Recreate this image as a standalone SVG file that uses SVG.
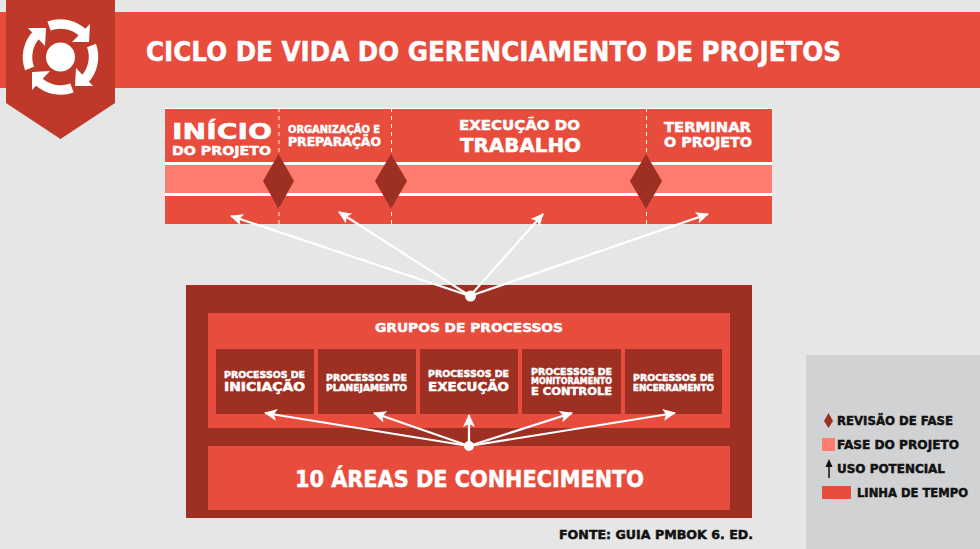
<svg xmlns="http://www.w3.org/2000/svg" width="980" height="549" viewBox="0 0 980 549">
<style>
text{font-family:"DejaVu Sans","Liberation Sans",sans-serif;font-weight:700;fill:#fff;stroke:#fff;stroke-width:.5}
text.k{fill:#111;stroke:#111}
.r{fill:#e84c3d}
.d{fill:#9e2f23}
.l{fill:#fd7b6f}
.w{stroke:#fff;stroke-width:2.200;fill:none}
.b{stroke:#fff;stroke-width:9.500;fill:none}
</style>
<defs>
<marker id="a" markerUnits="userSpaceOnUse" markerWidth="14" markerHeight="12" refX="12" refY="6" orient="auto"><path d="M0 0L13 6L0 12L3 6Z" fill="#fff"/></marker>
</defs>
<rect width="980" height="549" fill="#e6e6e6"/>
<g id="header">
<rect y="12" width="980" height="76" class="r"/>
<path d="M6 0H115V103L60.500 139L6 103Z" fill="#bf3829"/>
<text x="146" y="61" font-size="26" textLength="695" lengthAdjust="spacingAndGlyphs">CICLO DE VIDA DO GERENCIAMENTO DE PROJETOS</text>
</g>
<g id="icon">
<circle cx="60.500" cy="57" r="14.500" fill="#fff"/>
<path d="M49 26A33 33 0 0 1 83 33" class="b"/><path d="M90 24L89 42L72 42Z" fill="#fff"/>
<path d="M91.500 45.500A33 33 0 0 1 84.500 79.500" class="b"/><path d="M93 86L75 86L76 68Z" fill="#fff"/>
<path d="M72 88A33 33 0 0 1 38 81" class="b"/><path d="M32 90L32 72L50 71Z" fill="#fff"/>
<path d="M29.500 68.500A33 33 0 0 1 36.500 34.500" class="b"/><path d="M28 28L46 28L45 46Z" fill="#fff"/>
</g>
<g id="timeline">
<rect x="165" y="108" width="607" height="116" fill="#fff"/>
<rect x="165" y="109" width="607" height="53" class="r"/>
<rect x="165" y="165" width="607" height="28" class="l"/>
<rect x="165" y="196" width="607" height="28" class="r"/>
<path d="M279 108V224M391.500 108V224M646.500 108V224" stroke="#fff" stroke-dasharray="4 4" fill="none"/>
</g>
<g id="fase-inicio">
<text x="172" y="139" font-size="22" textLength="100" lengthAdjust="spacingAndGlyphs">INÍCIO</text>
<text x="172" y="155" font-size="13" textLength="99" lengthAdjust="spacingAndGlyphs">DO PROJETO</text>
<path d="M278.500 154L294 181L278.500 209L263 181Z" class="d"/>
</g>
<g id="fase-organizacao">
<text x="288" y="133" font-size="10.500" textLength="92" lengthAdjust="spacingAndGlyphs">ORGANIZAÇÃO E</text>
<text x="288" y="146" font-size="12.500" textLength="93" lengthAdjust="spacingAndGlyphs">PREPARAÇÃO</text>
<path d="M391 154L407 181L391 209L375 181Z" class="d"/>
</g>
<g id="fase-execucao">
<text x="459" y="130" font-size="14" textLength="121" lengthAdjust="spacingAndGlyphs">EXECUÇÃO DO</text>
<text x="460" y="152" font-size="20" textLength="121" lengthAdjust="spacingAndGlyphs">TRABALHO</text>
<path d="M646 154L662 181L646 209L630 181Z" class="d"/>
</g>
<g id="fase-terminar">
<text x="664" y="132" font-size="14" textLength="87" lengthAdjust="spacingAndGlyphs">TERMINAR</text>
<text x="664" y="147" font-size="14" textLength="88" lengthAdjust="spacingAndGlyphs">O PROJETO</text>
</g>
<g id="container">
<rect x="186" y="285" width="566" height="233" class="d"/>
<rect x="208" y="313" width="522" height="115" class="r"/>
<text x="375" y="332" font-size="13" textLength="188" lengthAdjust="spacingAndGlyphs">GRUPOS DE PROCESSOS</text>
</g>
<g id="iniciacao">
<rect x="216" y="349" width="98" height="65" class="d"/>
<text x="224" y="378" font-size="9.500" textLength="81" lengthAdjust="spacingAndGlyphs">PROCESSOS DE</text>
<text x="224" y="391" font-size="12" textLength="81" lengthAdjust="spacingAndGlyphs">INICIAÇÃO</text>
</g>
<g id="planejamento">
<rect x="318" y="349" width="98" height="65" class="d"/>
<text x="326" y="381" font-size="9.500" textLength="81" lengthAdjust="spacingAndGlyphs">PROCESSOS DE</text>
<text x="326" y="391" font-size="9" textLength="81" lengthAdjust="spacingAndGlyphs">PLANEJAMENTO</text>
</g>
<g id="execucao">
<rect x="420" y="349" width="98" height="65" class="d"/>
<text x="428" y="377" font-size="9.500" textLength="81" lengthAdjust="spacingAndGlyphs">PROCESSOS DE</text>
<text x="428" y="391" font-size="13" textLength="81" lengthAdjust="spacingAndGlyphs">EXECUÇÃO</text>
</g>
<g id="monitoramento">
<rect x="522" y="349" width="99" height="65" class="d"/>
<text x="531" y="375" font-size="9.500" textLength="81" lengthAdjust="spacingAndGlyphs">PROCESSOS DE</text>
<text x="531" y="384" font-size="9" textLength="81" lengthAdjust="spacingAndGlyphs">MONITORAMENTO</text>
<text x="531" y="395" font-size="11" textLength="81" lengthAdjust="spacingAndGlyphs">E CONTROLE</text>
</g>
<g id="encerramento">
<rect x="625" y="349" width="97" height="65" class="d"/>
<text x="633" y="381" font-size="9.500" textLength="81" lengthAdjust="spacingAndGlyphs">PROCESSOS DE</text>
<text x="633" y="391" font-size="9" textLength="81" lengthAdjust="spacingAndGlyphs">ENCERRAMENTO</text>
</g>
<g id="areas">
<rect x="208" y="446" width="522" height="64" class="r"/>
<text x="295" y="487" font-size="23" textLength="349" lengthAdjust="spacingAndGlyphs">10 ÁREAS DE CONHECIMENTO</text>
</g>
<g id="connectors">
<path d="M470 296L231 216" class="w" marker-end="url(#a)"/>
<path d="M470 296L339 212" class="w" marker-end="url(#a)"/>
<path d="M470 296L543 214" class="w" marker-end="url(#a)"/>
<path d="M470 296L708 214" class="w" marker-end="url(#a)"/>
<circle cx="470.500" cy="296" r="5.500" fill="#fff"/>
<path d="M469 446L265 413" class="w" marker-end="url(#a)"/>
<path d="M469 446L374 413" class="w" marker-end="url(#a)"/>
<path d="M469 446V415" class="w" marker-end="url(#a)"/>
<path d="M469 446L572 413" class="w" marker-end="url(#a)"/>
<path d="M469 446L675 413" class="w" marker-end="url(#a)"/>
<circle cx="469" cy="446" r="5" fill="#fff"/>
</g>
<text id="fonte" x="559" y="539" font-size="13" textLength="194" lengthAdjust="spacingAndGlyphs" class="k">FONTE: GUIA PMBOK 6. ED.</text>
<g id="legenda">
<rect x="806" y="355" width="174" height="194" fill="#d1d2d4"/>
<path d="M828.500 413L833 421L828.500 428L824 421Z" class="d"/>
<text x="837" y="425" font-size="12.500" textLength="116" lengthAdjust="spacingAndGlyphs" class="k">REVISÃO DE FASE</text>
<rect x="822" y="438" width="13" height="13" class="l"/>
<text x="837" y="449" font-size="12.500" textLength="122" lengthAdjust="spacingAndGlyphs" class="k">FASE DO PROJETO</text>
<path d="M829 478V464" stroke="#111" stroke-width="1.500"/><path d="M825.500 467L829 459L832.500 467Z" fill="#111"/>
<text x="837" y="473" font-size="12.500" textLength="108" lengthAdjust="spacingAndGlyphs" class="k">USO POTENCIAL</text>
<rect x="822" y="486" width="29" height="13" class="r"/>
<text x="857" y="497" font-size="12.500" textLength="111" lengthAdjust="spacingAndGlyphs" class="k">LINHA DE TEMPO</text>
</g>
</svg>
